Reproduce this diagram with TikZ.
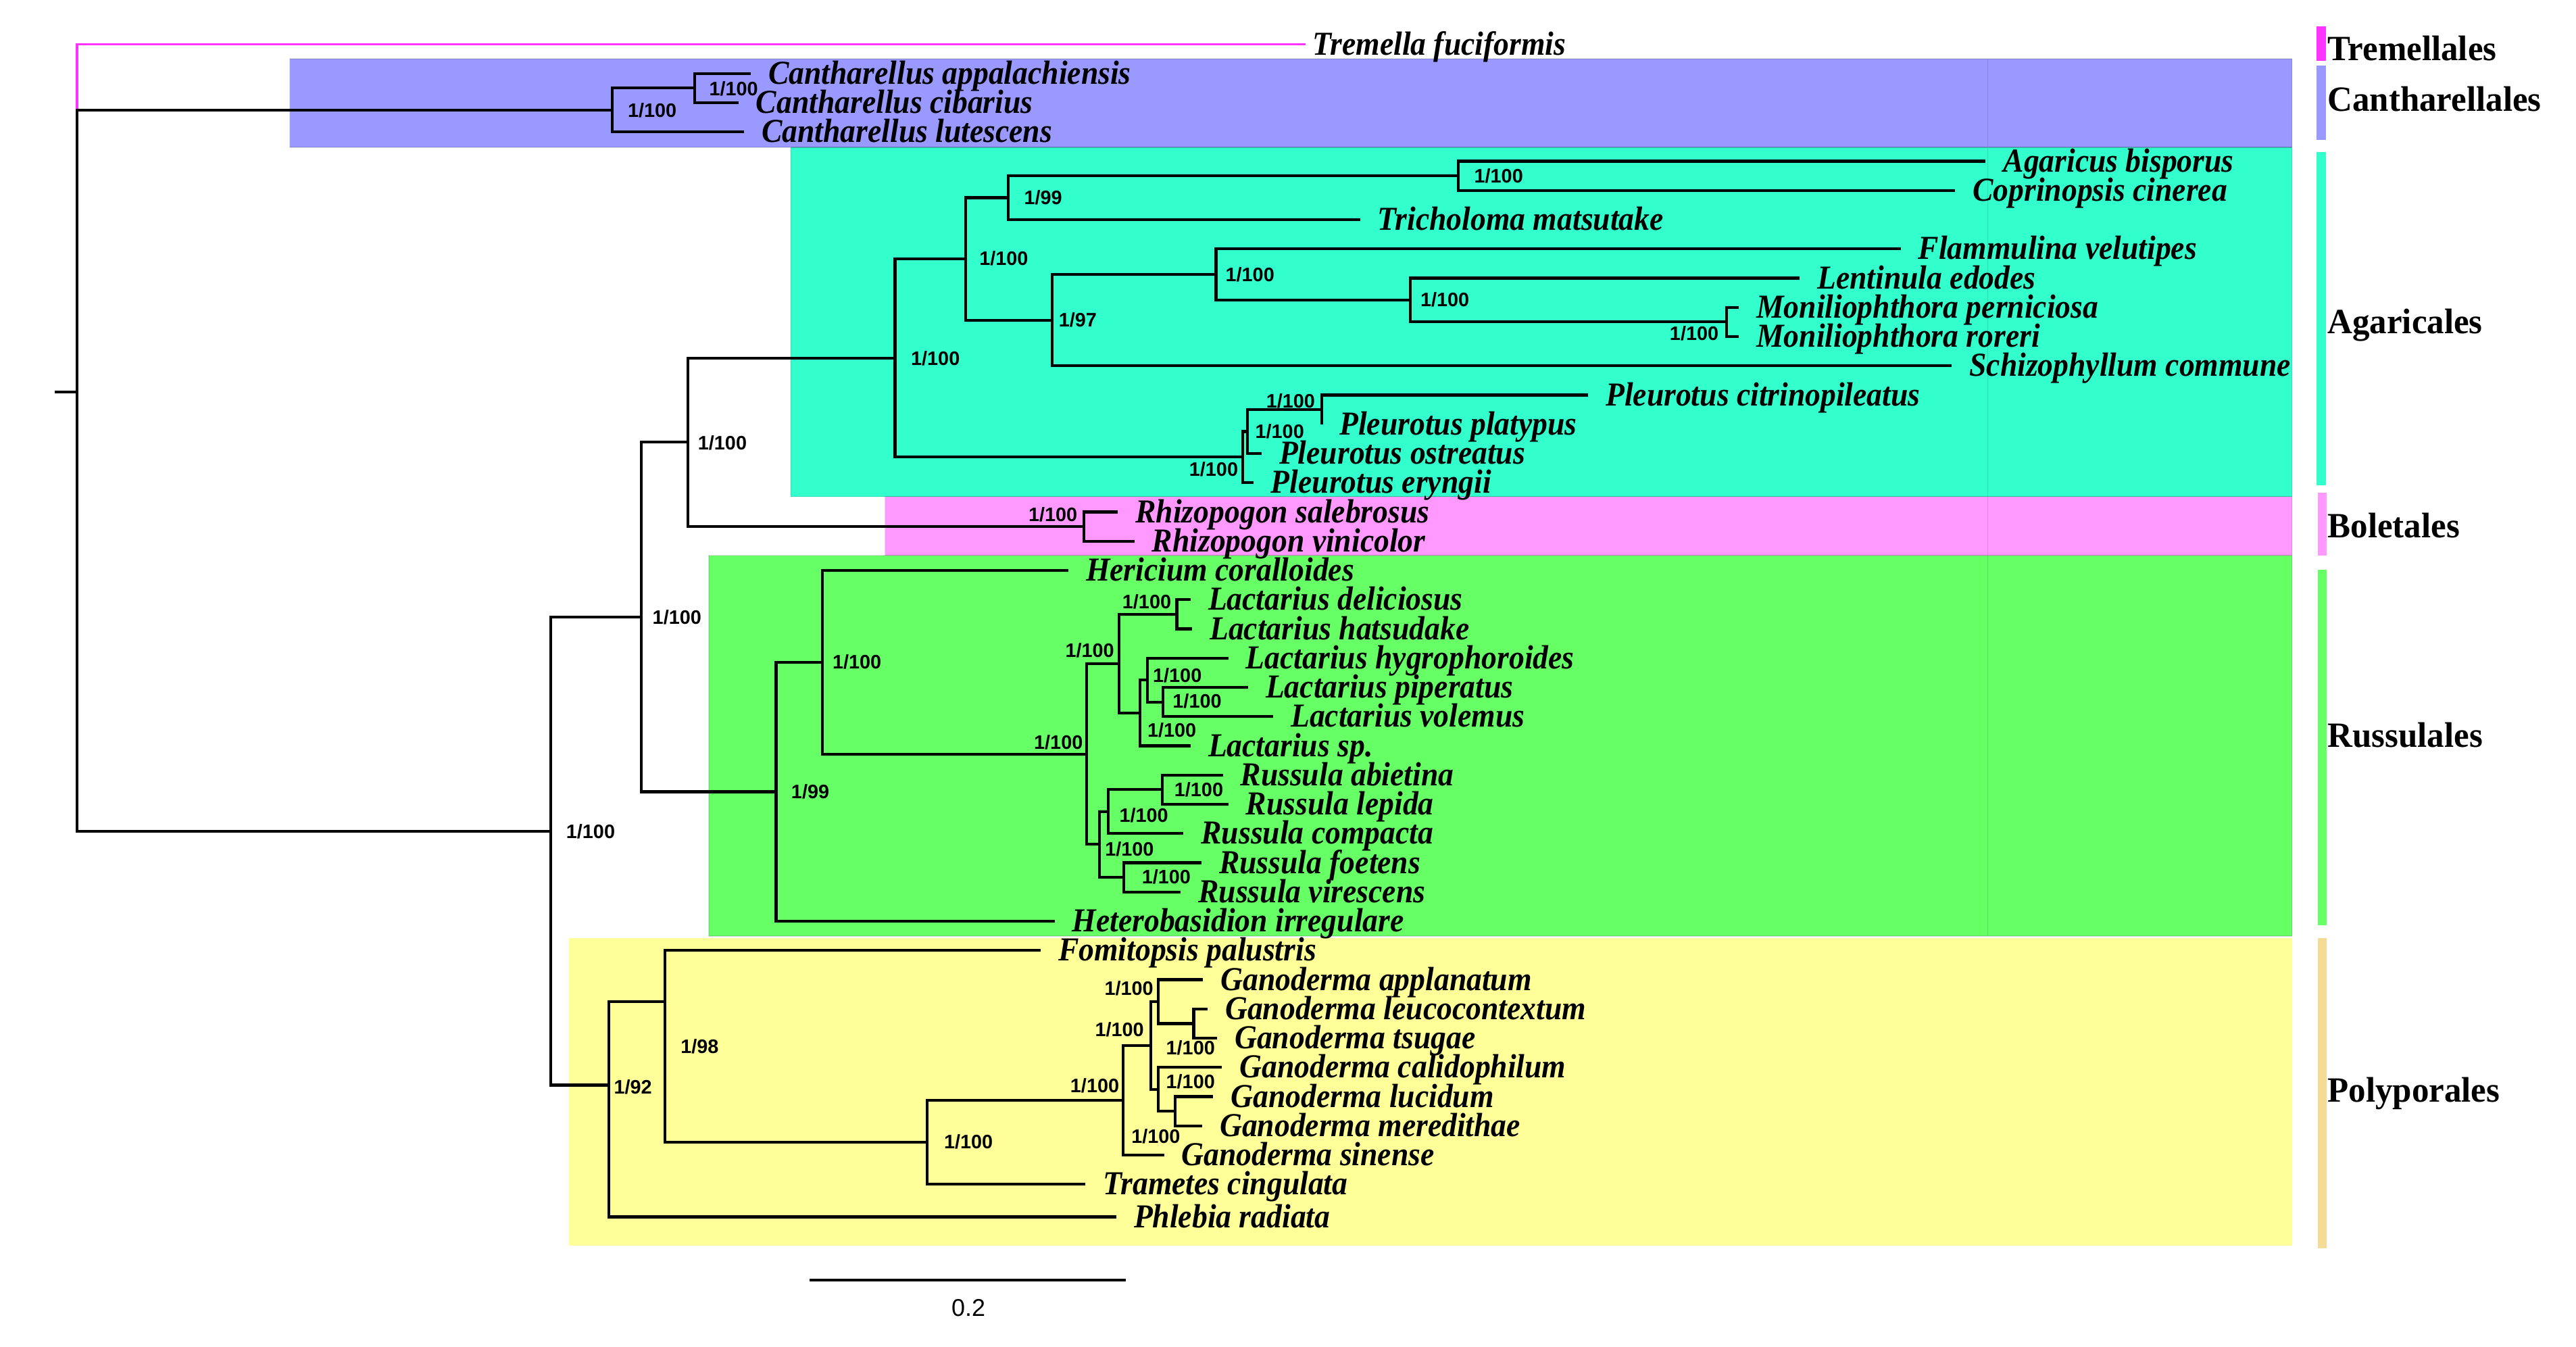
\documentclass[tikz,border=0pt]{standalone}
\usepackage{fontspec}
\setmainfont{Liberation Serif}
\newfontfamily\taxfont{Liberation Serif}[FakeStretch=0.92]
\newfontfamily\ordfont{Liberation Serif}[FakeStretch=0.97]
\newfontfamily\labfont{Liberation Sans}
\definecolor{cantc}{HTML}{9999FF}
\definecolor{agac}{HTML}{33FFCC}
\definecolor{bolc}{HTML}{FF99FF}
\definecolor{rusc}{HTML}{66FF66}
\definecolor{polc}{HTML}{FFFF99}
\definecolor{polbar}{HTML}{F5DC96}
\definecolor{tremc}{HTML}{FF33FF}
\tikzset{
  br/.style={line width=1.7pt, draw=black},
  tremb/.style={line width=1.6pt, draw=tremc},
  taxon/.style={anchor=base west, inner sep=0pt, yshift=-6.4pt, font=\taxfont\bfseries\itshape\fontsize{20.3}{24}\selectfont},
  suplab/.style={anchor=west, inner sep=0pt, font=\labfont\bfseries\fontsize{11.8}{13}\selectfont},
  ordlab/.style={anchor=base west, inner sep=0pt, font=\ordfont\bfseries\fontsize{21.5}{25}\selectfont},
  scalelab/.style={anchor=center, inner sep=0pt, font=\labfont\fontsize{14.7}{17}\selectfont},
  boxedge/.style={draw=black, draw opacity=0.12, line width=0.5pt},
}
\newcommand\leaf[4]{%
  \coordinate (#1) at (#2,{26.8+(#3-1)*17.7});
  \node[taxon] (#1l) at ([xshift=10.5pt]#1) {#4};}
\newcommand\bsl[4]{\node[suplab] (#1) at (#2,#3) {#4};}
\begin{document}
\begin{tikzpicture}[x=1pt,y=-1pt]
\useasboundingbox (0,0) rectangle (1560,815.2);
% ---------- clade boxes ----------
\fill[cantc] (175.4,35.6) rectangle (1388,89.2);
\fill[agac] (479,89.2) rectangle (1388,300.7);
\fill[bolc] (535.9,300.7) rectangle (1388,336.3);
\fill[rusc] (429.3,336.3) rectangle (1388,566.8);
\fill[polc] (344.4,568.1) rectangle (1388,754.4);
\path[boxedge] (175.4,35.6) rectangle (1203.6,89.2) (1203.6,35.6) rectangle (1388,89.2);
\path[boxedge] (479,89.2) rectangle (1203.6,300.7) (1203.6,89.2) rectangle (1388,300.7);
\path[boxedge] (535.9,300.7) rectangle (1203.6,336.3) (1203.6,300.7) rectangle (1388,336.3);
\path[boxedge] (429.3,336.3) rectangle (1203.6,566.8) (1203.6,336.3) rectangle (1388,566.8);
% ---------- order bars ----------
\fill[tremc] (1403,16.1) rectangle (1408.5,36.8);
\fill[cantc] (1403,39.6) rectangle (1408.5,84.6);
\fill[agac] (1403,92.1) rectangle (1408.5,293.7);
\fill[bolc] (1403.5,298.5) rectangle (1409,336.3);
\fill[rusc] (1403.5,345) rectangle (1409,560.4);
\fill[polbar] (1403.5,568.1) rectangle (1409,755.7);
\node[ordlab] (oTrem) at (1409.4,36.6) {Tremellales};
\node[ordlab] (oCant) at (1409.4,67.5) {Cantharellales};
\node[ordlab] (oAga) at (1409.4,201.9) {Agaricales};
\node[ordlab] (oBol) at (1409.4,325.4) {Boletales};
\node[ordlab] (oRus) at (1409.4,452.4) {Russulales};
\node[ordlab] (oPol) at (1409.4,667.3) {Polyporales};
% ---------- internal nodes ----------
\coordinate (rootstub) at (33.3,237.5);
\coordinate (root) at (46.5,237.5);
\coordinate (CANT) at (370.6,66.6);
\coordinate (CANTs) at (420.8,53.35);
\coordinate (MAIN) at (333.6,503.4);
\coordinate (A) at (388.5,373.6);
\coordinate (B) at (416.7,267.8);
\coordinate (AGA) at (542,216.8);
\coordinate (C) at (584.8,156.8);
\coordinate (D) at (610.5,119.7);
\coordinate (E) at (883,106.45);
\coordinate (F) at (637,193.85);
\coordinate (G) at (736.4,166.2);
\coordinate (H) at (854,181.7);
\coordinate (MON) at (1045.5,194.95);
\coordinate (P1) at (752.5,276.8);
\coordinate (P2) at (755.5,261.3);
\coordinate (P3) at (800.5,248.05);
\coordinate (RHI) at (656.3,318.85);
\coordinate (R0) at (470,479.4);
\coordinate (R1) at (498,401);
\coordinate (R2) at (658,456.6);
\coordinate (L0) at (677.7,401.8);
\coordinate (L1) at (712.7,371.95);
\coordinate (L2) at (690.2,431.8);
\coordinate (L3) at (694.7,411.8);
\coordinate (L4) at (704.2,425.05);
\coordinate (S0) at (665.8,511.3);
\coordinate (S1) at (671,491.4);
\coordinate (S2) at (703.9,478.15);
\coordinate (S3) at (680.4,531.25);
\coordinate (Y0) at (368.8,657);
\coordinate (Y1) at (402.8,606.6);
\coordinate (Y2) at (561.3,691.65);
\coordinate (G0) at (680,666.2);
\coordinate (G1) at (696.8,633.05);
\coordinate (G2) at (701.5,606.5);
\coordinate (G3) at (722.9,619.75);
\coordinate (G4) at (701.5,659.6);
\coordinate (G5) at (711.7,672.85);
% ---------- leaves ----------
\coordinate (t1) at (790.7,26.8);
\node[taxon] (t1l) at ([xshift=4pt]t1) {Tremella fuciformis};
\leaf{t2}{454.7}{2}{Cantharellus appalachiensis}
\leaf{t3}{447.2}{3}{Cantharellus cibarius}
\leaf{t4}{450.6}{4}{Cantharellus lutescens}
\leaf{t5}{1202.5}{5}{Agaricus bisporus}
\leaf{t6}{1184}{6}{Coprinopsis cinerea}
\leaf{t7}{823.6}{7}{Tricholoma matsutake}
\leaf{t8}{1151}{8}{Flammulina velutipes}
\leaf{t9}{1089.8}{9}{Lentinula edodes}
\leaf{t10}{1053}{10}{Moniliophthora perniciosa}
\leaf{t11}{1053}{11}{Moniliophthora roreri}
\leaf{t12}{1182}{12}{Schizophyllum commune}
\leaf{t13}{961.7}{13}{Pleurotus citrinopileatus}
\leaf{t14}{800.5}{14}{Pleurotus platypus}
\leaf{t15}{764}{15}{Pleurotus ostreatus}
\leaf{t16}{759}{16}{Pleurotus eryngii}
\leaf{t17}{677}{17}{Rhizopogon salebrosus}
\leaf{t18}{687}{18}{Rhizopogon vinicolor}
\leaf{t19}{647}{19}{Hericium coralloides}
\leaf{t20}{721}{20}{Lactarius deliciosus}
\leaf{t21}{721.9}{21}{Lactarius hatsudake}
\leaf{t22}{743.9}{22}{Lactarius hygrophoroides}
\leaf{t23}{755.8}{23}{Lactarius piperatus}
\leaf{t24}{771}{24}{Lactarius volemus}
\leaf{t25}{721}{25}{Lactarius sp.}
\leaf{t26}{740.5}{26}{Russula abietina}
\leaf{t27}{743.9}{27}{Russula lepida}
\leaf{t28}{716.7}{28}{Russula compacta}
\leaf{t29}{727.6}{29}{Russula foetens}
\leaf{t30}{715}{30}{Russula virescens}
\leaf{t31}{638.7}{31}{Heterobasidion irregulare}
\leaf{t32}{630.2}{32}{Fomitopsis palustris}
\leaf{t33}{728.6}{33}{Ganoderma applanatum}
\leaf{t34}{731.3}{34}{Ganoderma leucocontextum}
\leaf{t35}{737}{35}{Ganoderma tsugae}
\leaf{t36}{740}{36}{Ganoderma calidophilum}
\leaf{t37}{734.7}{37}{Ganoderma lucidum}
\leaf{t38}{728}{38}{Ganoderma meredithae}
\leaf{t39}{704.9}{39}{Ganoderma sinense}
\leaf{t40}{657.3}{40}{Trametes cingulata}
\coordinate (t41) at (676,736.8);
\node[taxon] (t41l) at ([xshift=10.5pt]t41) {Phlebia radiata};
% ---------- branches ----------
\draw[br] (rootstub) -- (root);
\draw[tremb] (root |- CANT) |- (t1);
\draw[br] (root) |- (CANT);
\draw[br] (root) |- (MAIN);
\draw[br] (CANT) |- (CANTs);
\draw[br] (CANT) |- (t4);
\draw[br] (CANTs) |- (t2);
\draw[br] (CANTs) |- (t3);
\draw[br] (MAIN) |- (A);
\draw[br] (MAIN) |- (Y0);
\draw[br] (A) |- (B);
\draw[br] (A) |- (R0);
\draw[br] (B) |- (AGA);
\draw[br] (B) |- (RHI);
\draw[br] (AGA) |- (C);
\draw[br] (AGA) |- (P1);
\draw[br] (C) |- (D);
\draw[br] (C) |- (F);
\draw[br] (D) |- (E);
\draw[br] (D) |- (t7);
\draw[br] (E) |- (t5);
\draw[br] (E) |- (t6);
\draw[br] (F) |- (G);
\draw[br] (F) |- (t12);
\draw[br] (G) |- (t8);
\draw[br] (G) |- (H);
\draw[br] (H) |- (t9);
\draw[br] (H) |- (MON);
\draw[br] (MON) |- (t10);
\draw[br] (MON) |- (t11);
\draw[br] (P1) |- (P2);
\draw[br] (P1) |- (t16);
\draw[br] (P2) |- (P3);
\draw[br] (P2) |- (t15);
\draw[br] (P3) |- (t13);
\draw[br] (P3) |- (t14);
\draw[br] (RHI) |- (t17);
\draw[br] (RHI) |- (t18);
\draw[br] (R0) |- (R1);
\draw[br] (R0) |- (t31);
\draw[br] (R1) |- (t19);
\draw[br] (R1) |- (R2);
\draw[br] (R2) |- (L0);
\draw[br] (R2) |- (S0);
\draw[br] (L0) |- (L1);
\draw[br] (L0) |- (L2);
\draw[br] (L1) |- (t20);
\draw[br] (L1) |- (t21);
\draw[br] (L2) |- (L3);
\draw[br] (L2) |- (t25);
\draw[br] (L3) |- (t22);
\draw[br] (L3) |- (L4);
\draw[br] (L4) |- (t23);
\draw[br] (L4) |- (t24);
\draw[br] (S0) |- (S1);
\draw[br] (S0) |- (S3);
\draw[br] (S1) |- (S2);
\draw[br] (S1) |- (t28);
\draw[br] (S2) |- (t26);
\draw[br] (S2) |- (t27);
\draw[br] (S3) |- (t29);
\draw[br] (S3) |- (t30);
\draw[br] (Y0) |- (Y1);
\draw[br] (Y0) |- (t41);
\draw[br] (Y1) |- (t32);
\draw[br] (Y1) |- (Y2);
\draw[br] (Y2) |- (G0);
\draw[br] (Y2) |- (t40);
\draw[br] (G0) |- (G1);
\draw[br] (G0) |- (t39);
\draw[br] (G1) |- (G2);
\draw[br] (G1) |- (G4);
\draw[br] (G2) |- (t33);
\draw[br] (G2) |- (G3);
\draw[br] (G3) |- (t34);
\draw[br] (G3) |- (t35);
\draw[br] (G4) |- (t36);
\draw[br] (G4) |- (G5);
\draw[br] (G5) |- (t37);
\draw[br] (G5) |- (t38);
% ---------- support labels ----------
\bsl{lb1}{429.3}{53.9}{1/100}
\bsl{lb2}{380}{66.7}{1/100}
\bsl{lb3}{395}{373.8}{1/100}
\bsl{lb4}{422.5}{268}{1/100}
\bsl{lb5}{342.7}{503.4}{1/100}
\bsl{lb6}{551.5}{216.9}{1/100}
\bsl{lb7}{592.9}{156.6}{1/100}
\bsl{lb8}{620}{119.7}{1/99}
\bsl{lb9}{892.6}{106.5}{1/100}
\bsl{lb10}{641}{193.7}{1/97}
\bsl{lb11}{742}{166.3}{1/100}
\bsl{lb12}{860}{181.4}{1/100}
\bsl{lb13}{1011}{201.9}{1/100}
\bsl{lb14}{766.6}{243}{1/100}
\bsl{lb15}{760}{261.3}{1/100}
\bsl{lb16}{720}{284}{1/100}
\bsl{lb17}{622.7}{311.7}{1/100}
\bsl{lb18}{479}{479.3}{1/99}
\bsl{lb19}{504}{400.8}{1/100}
\bsl{lb20}{626}{449.6}{1/100}
\bsl{lb21}{645}{393.9}{1/100}
\bsl{lb22}{679.5}{364.3}{1/100}
\bsl{lb23}{694.7}{442.3}{1/100}
\bsl{lb24}{698}{408.8}{1/100}
\bsl{lb25}{710}{424.6}{1/100}
\bsl{lb26}{669}{514}{1/100}
\bsl{lb27}{677.7}{493.5}{1/100}
\bsl{lb28}{711}{478}{1/100}
\bsl{lb29}{691.3}{530.9}{1/100}
\bsl{lb30}{371.6}{658}{1/92}
\bsl{lb31}{412}{633.5}{1/98}
\bsl{lb32}{571.5}{691.3}{1/100}
\bsl{lb33}{648}{657.5}{1/100}
\bsl{lb34}{663}{623.2}{1/100}
\bsl{lb35}{668.7}{598.5}{1/100}
\bsl{lb36}{706}{634.6}{1/100}
\bsl{lb37}{706}{654.8}{1/100}
\bsl{lb38}{685}{688.2}{1/100}
% ---------- scale bar ----------
\coordinate (sb1) at (490.4,775);
\coordinate (sb2) at (681.8,775);
\draw[br] (sb1) -- (sb2);
\node[scalelab] (sbl) at (586.5,792) {0.2};
\end{tikzpicture}
\end{document}
